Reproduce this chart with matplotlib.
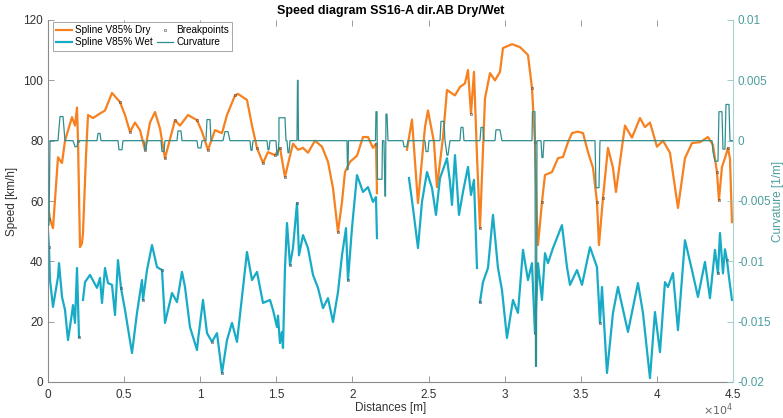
import matplotlib
matplotlib.use("Agg")
import matplotlib.pyplot as plt
import numpy as np
from matplotlib.ticker import FuncFormatter

plt.rcParams["font.family"] = ["Liberation Sans", "DejaVu Sans"]
plt.rcParams["axes.unicode_minus"] = False

nan = np.nan

# --- Spline V85% Dry: distance [m], speed [km/h] (nan = gap) ---
dry_dist = [0, 131, 328, 657, 788, 920, 1117, 1577, 1774, 1905, 1971, 2102, 2233, 2299, 2496, 2628,
            2956, 3416, 3744, 4204, 4730, 5058, 5387, 5715, 6043, 6372, 6700, 7029, 7358, 7686,
            8343, 8671, 9197, 9788, 10116, 10510, 10970, 11430, 11759, 12284, 12481, 13072, 13401,
            13729, 14123, 14452, 14912, 15240, 15569, 15897, 16094, 16423, 16751, 17079, 17539,
            17999, 18393, 18722, 19050, 19313, 19510, 19838, 20298, 20692, 21021, 21349, 21546, 21612,
            nan,
            23583, 23911, 24305, 24765, 24963, 25357, 25554, 25948, 26210, 26736, 27064, 27393,
            27590, 27787, 27984, 28181, 28378, 28707, 29035, 29363, 29692, 29889, 30480, 31006,
            31531, 31794, 31991, 32122, 32188, 32451, 32648, 33108, 33502, 33831, 34160, 34423,
            34817, 35146, 35474, 35803, 36064, 36195, 36458, 36786, 37115, 37312, 37575, 37903,
            38363, 38888, 39217, 39545, 40005, 40399, 40859, 41385, 41844, 42304, 42830, 43355,
            43683, 43946, 44078, 44275, 44472, 44669, 44801, 44932]
dry_speed = [59, 54, 51, 74.5, 73.5, 72.6, 80, 87.8, 85, 91, 80, 44.7, 46, 49.4, 75, 88.5,
             87.5, 89, 90, 95.8, 92.8, 88.5, 82.9, 86, 83.5, 76.9, 86, 89.5, 84, 74.2,
             86.8, 85, 88.5, 86.8, 83, 76.9, 83.5, 82.5, 88.5, 95, 95.5, 93.5, 85,
             77.6, 72.6, 76.2, 75.2, 77.6, 68, 75, 79, 77, 77.6, 76, 80,
             78, 73, 64.3, 49.7, 59.7, 69.6, 73, 75, 81.2, 81.2, 77.6, 79, 62.6,
             nan,
             77, 87, 59.3, 84.5, 90, 79.5, 64.6, 81, 96.8, 95, 97.8, 99,
             103.4, 89, 102.8, 75, 51, 94, 102.4, 100, 102.8, 110.7, 112, 111,
             108.4, 97.5, 79.5, 53, 45.4, 59.7, 68.6, 69.6, 74.2, 74.6, 79.5, 82.5,
             83, 82.5, 76.2, 71, 59.7, 45.4, 61, 77.6, 71, 63, 73, 85,
             81, 87.5, 84.5, 86, 78, 80, 76, 57.7, 74.2, 79.2, 79.5, 81.2,
             78.6, 69.6, 60.3, 71.3, 74.2, 77.6, 74, 53]

# --- Spline V85% Wet ---
wet_dist = [0, 66, 131, 328, 657, 723, 920, 1117, 1314, 1577, 1642, 1774, 1905, 2036,
            nan,
            2299, 2431, 2759, 3219, 3416, 3547, 3744, 3941, 4204, 4401, 4598, 4795, 5058, 5518,
            5846, 6175, 6241, 6503, 6832, 7160, 7489, 7686, 8146, 8474, 8802, 8999, 9328, 9788,
            9854, 10182, 10445, 10773, 11102, 11430, 11759, 12087, 12415, 13072, 13401, 13729,
            14123, 14583, 14780, 15043, 15109, 15240, 15371, 15437, 15569, 15700, 15897, 16094,
            16357, 16488, 16751, 17079, 17408, 17736, 18065, 18393, 18722, 19050, 19313, 19576,
            19707, 19969, 20298, 20692, 21021, 21349, 21546, 21612,
            nan,
            23714, 23977, 24305, 24568, 24897, 25226, 25488, 25751, 26014, 26210, 26408, 26539,
            26736, 26999, 27261, 27590, 27787, 27984, 28181,
            nan,
            28378, 28575, 28904, 29232, 29560, 29823, 30151, 30546, 30874, 31203, 31531, 31794,
            31991, 32188, 32451, 32648, 32845, 33174, 33765, 34094, 34291, 34751, 35080, 35606,
            36064, 36261, 36393, 36721, 37115, 37443, 38100, 38757, 39085, 39545, 39873, 40202,
            40530, 40727, 41056, 41385, 41844, 42304, 42698, 43158, 43486, 43815, 44012, 44144,
            44341, 44472, 44604, 44735, 44932]
wet_speed = [50, 44.7, 33.8, 24.9, 34.8, 39.4, 28.2, 23.9, 13.9, 22.9, 25.5, 19.6, 37.8, 14.9,
             nan,
             27.2, 33.1, 35.5, 31.2, 34.5, 26.2, 37.8, 32.8, 32.2, 22.2, 40.4, 31.2, 23.9, 9.6,
             22.9, 33.8, 27.2, 37.1, 45.4, 38.1, 37.1, 19.6, 29.5, 26.5, 36.5, 31.5, 18.2, 10.6,
             13.9, 27.2, 16.2, 13.3, 16.2, 3.0, 13.9, 19.6, 13.3, 43.1, 33.8, 36.5,
             26.2, 27.2, 23.9, 18.2, 22, 12.9, 16.6, 11.3, 37.8, 52.7, 38.8, 44.4,
             59.3, 42, 48.7, 44.4, 35.5, 31.2, 24.5, 27.8, 19.9, 29.8, 42, 51,
             33.8, 51, 68.6, 63, 64.6, 59.7, 61.3, 47.7,
             nan,
             67.6, 57.7, 44.4, 59.7, 69.6, 64.3, 55.4, 67.6, 71.3, 74.2, 66.3, 58.7,
             75.2, 55.4, 63, 71.3, 62, 67, 37.8,
             nan,
             26.5, 33.1, 37.8, 55.4, 37.8, 30.5, 14.6, 27.2, 22.9, 43.8, 33.8, 39.4,
             16.2, 39.4, 27.2, 42.7, 39.4, 44.4, 52, 38.1, 32.2, 37.1, 32.2, 44.7,
             38.1, 19.6, 31.5, 3, 22.9, 31.5, 16.6, 32.8, 22.9, 1.3, 23.2, 9.9,
             33.1, 31.5, 36.1, 17.2, 47, 37.1, 28.2, 39.8, 27.8, 43.8, 36, 49.4,
             36, 44, 40.4, 34.8, 27.2]

# --- Curvature [1/m] ---
curv_dist = [0, 66, 131, 657, 788, 985, 1117, 1642, 1774, 1905, 1971, 3219, 3285, 3416, 3482,
             4598, 4664, 4861, 4927, 6306, 6372, 6437, 6503, 7423, 7489, 7620, 7686, 8474, 8540,
             8737, 8802, 9788, 9854, 10051, 10116, 10379, 10445, 10642, 10707, 11496, 11627,
             11824, 11956, 13269, 13335, 13401, 13466, 14386, 14452, 14518, 14583, 14978, 15043,
             15109, 15174, 15174, 15240, 15569, 15634, 15700, 15766, 15831, 15897, 16357, 16390,
             16423, 16455, 19641, 19674, 19707, 19740, 21513, 21546, 21612, 21645, 21678, 21940,
             21973, 22072, 22138, 22171, 22203, 22269, 22335, 22532,
             23320, 23386, 23583, 23648, 24765, 24831, 24963, 25028, 25751, 25817, 26014, 26080,
             26210, 26276, 26408, 26473, 27064, 27130, 27261, 27327, 28378, 28444, 28575, 28641,
             29363, 29429, 29692, 29823, 31794, 31827, 31991, 32024, 32090, 32122, 32385, 32451,
             32517, 32582, 35934, 35999, 36195, 36261, 43618, 43683, 43815, 43880, 44012, 44078,
             44275, 44341, 44472, 44538, 44735, 44801, 45000]
curv_val = [-0.007, -0.007, 0, 0, 0.002, 0.002, 0, 0, -0.0005, -0.0005, 0, 0, 0.0006, 0.0006, 0,
            0, -0.00075, -0.00075, 0, 0, -0.00075, -0.00075, 0, 0, -0.0009, -0.0009, 0, 0, 0.0008,
            0.0008, 0, 0, -0.0006, -0.0006, 0, 0, 0.00175, 0.00175, 0, 0, 0.00075,
            0.00075, 0, 0, -0.0008, -0.0008, 0, 0, -0.00075, -0.00075, 0, 0, -0.0012,
            -0.0012, 0, 0.0019, 0.0019, 0.0019, 0, 0, -0.001, -0.001, 0, 0, 0.005,
            0.005, 0, 0, -0.0024, -0.0024, 0, 0, 0.0024, 0.0024, -0.0032, -0.0032, -0.0032,
            0, 0, -0.0046, -0.0046, 0.0022, 0.0022, 0, 0,
            0, -0.0005, -0.0005, 0, 0, -0.0009, -0.0009, 0, 0, 0.0016, 0.0016, 0,
            -0.0012, -0.0012, 0, 0, 0, 0.0011, 0.0011, 0, 0, 0.0011, 0.0011, 0,
            0, 0.0009, 0.0009, 0, 0, 0.0024, 0.0024, -0.0187, -0.0187, 0, 0, -0.0014,
            -0.0014, 0, 0, -0.0039, -0.0039, 0, 0, -0.0009, -0.0017, -0.0017, -0.0017, 0.0024,
            0.0024, -0.0007, -0.0007, 0.003, 0.003, 0, 0]

# --- Breakpoints ---
bp_dist = [66, 1971, 4730, 5387, 6372, 7686, 8343, 9788, 10510, 12284, 13729, 14123, 14912,
           15240, 15569, 19050, 21546, 27787, 28378, 31794, 31991, 32451, 36064, 36458, 43946,
           44078, 44669,
           66, 2036, 4795, 6241, 7489, 10773, 11430, 15897, 16357, 19707, 28378, 31991, 36261,
           44012, 44604]
bp_speed = [54, 80, 92.8, 82.9, 76.9, 74.2, 86.8, 86.8, 76.9, 95, 77.6, 72.6, 75.2,
            77.6, 68, 49.7, 79, 89, 51, 97.5, 79.5, 59.7, 59.7, 61, 69.6,
            60.3, 77.6,
            44.7, 14.9, 31.2, 27.2, 37.1, 13.3, 3.0, 38.8, 59.3, 33.8, 26.5, 16.2, 19.6,
            36, 40.4]

x_ticks = [0, 5000, 10000, 15000, 20000, 25000, 30000, 35000, 40000, 45000]
speed_ticks = [0, 20, 40, 60, 80, 100, 120]
curv_ticks = [-0.02, -0.015, -0.01, -0.005, 0, 0.005, 0.01]

DRY = "#F7801F"
WET = "#18ABC6"
CURV = "#2F8F8F"
RCOL = "#4D9E9E"

fig = plt.figure(figsize=(7.83, 4.18), dpi=100)
ax = fig.add_axes([48 / 783, 1 - 382 / 418, 685 / 783, 362 / 418])
ax2 = ax.twinx()

l_dry, = ax.plot(dry_dist, dry_speed, color=DRY, lw=1.6)
l_wet, = ax.plot(wet_dist, wet_speed, color=WET, lw=1.6)
l_bp, = ax.plot(bp_dist, bp_speed, ls="none", marker="s", ms=1.6, mfc="none",
                mec="#4a4a4a", mew=0.4)
l_curv, = ax2.plot(curv_dist, curv_val, color=CURV, lw=0.9)

ax.set_xlim(0, 45000)
ax.set_ylim(0, 120)
ax.set_yticks(speed_ticks)
ax.set_xticks(x_ticks)
ax.xaxis.set_major_formatter(FuncFormatter(lambda v, p: "%g" % (v / 1e4)))
ax2.set_ylim(-0.02, 0.01)
ax2.set_yticks(curv_ticks)
ax2.yaxis.set_major_formatter(FuncFormatter(lambda v, p: "%g" % round(v, 4)))

for a in (ax, ax2):
    a.spines["top"].set_visible(False)
ax.spines["left"].set_color("#8a8a8a")
ax.spines["bottom"].set_color("#8a8a8a")
ax.spines["right"].set_visible(False)
ax2.spines["left"].set_visible(False)
ax2.spines["bottom"].set_visible(False)
ax2.spines["right"].set_color("#a8d4d4")

ax.tick_params(direction="in", top=True, length=4, width=0.6, color="#8a8a8a",
               labelsize=8.5, labelcolor="#333333")
ax.tick_params(axis="x", pad=5)
ax2.tick_params(direction="in", length=4, width=0.6, color="#8ac4c4",
                labelsize=8.5, labelcolor=RCOL, pad=3)

fig.text(733 / 783, 1 - 410 / 418, r"$\times10^{4}$", ha="right", va="center",
         fontsize=8, color="#666666")

ax.set_xlabel("Distances [m]", fontsize=8.5, color="#333333", labelpad=1)
ax.set_ylabel("Speed [km/h]", fontsize=8.5, color="#333333", labelpad=4)
ax2.set_ylabel("Curvature [1/m]", fontsize=8.5, color=RCOL, labelpad=1)
ax.set_title("Speed diagram SS16-A dir.AB Dry/Wet", fontsize=9, fontweight="bold", pad=4)

leg = ax2.legend([l_dry, l_wet, l_bp, l_curv],
                 ["Spline V85% Dry", "Spline V85% Wet", "Breakpoints", "Curvature"],
                 loc="upper left", bbox_to_anchor=(0.007, 0.995), ncol=2, fontsize=7.2,
                 frameon=True, fancybox=False, edgecolor="#999999", framealpha=1,
                 handlelength=1.6, handletextpad=0.3, columnspacing=0.4,
                 borderpad=0.35, labelspacing=0.2, borderaxespad=0)
leg.get_frame().set_linewidth(0.6)

fig.savefig("out.png", dpi=100)
